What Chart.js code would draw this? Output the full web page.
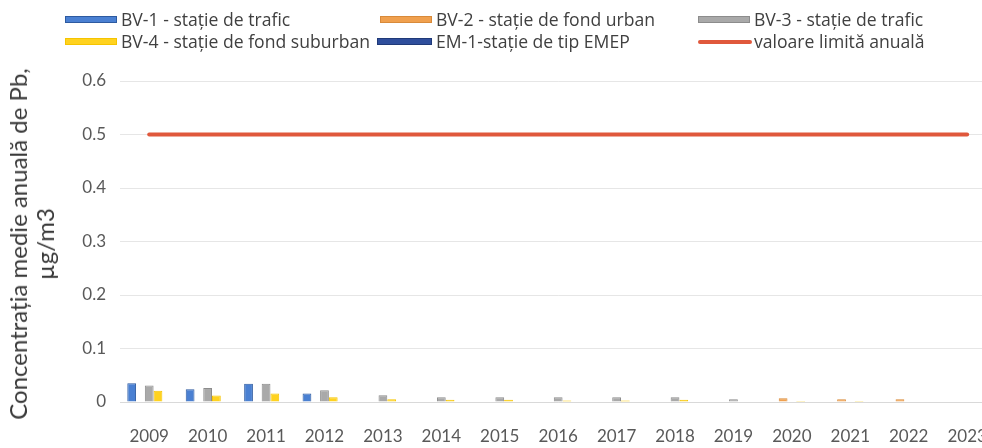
<!DOCTYPE html>
<html>
<head>
<meta charset="utf-8">
<script src="https://cdn.jsdelivr.net/npm/chart.js@4.4.1/dist/chart.umd.min.js"></script>
<style>
  html, body { margin: 0; padding: 0; background: #fff; }
  #wrap { position: relative; width: 982px; height: 448px; overflow: hidden; font-family: "Open Sans", Lato, sans-serif; }
  #box { position: absolute; left: 0; top: 0; width: 1011px; height: 448px; }
  .lg { position: absolute; font-size: 17.6px; color: #404040; white-space: nowrap; line-height: 20px; }
  .sw { position: absolute; }
  #ytitle { position: absolute; left: 31px; top: 244px; width: 0; height: 0; }
  #ytitleText { position: absolute; left: 0; top: 0; transform: translate(-50%, -50%) rotate(-90deg);
                font-family: Lato, sans-serif; font-size: 24px; line-height: 27px; color: #3a3a3a;
                text-align: center; white-space: nowrap; }
</style>
</head>
<body>
<div id="wrap">
  <div id="box"><canvas id="chart" width="1011" height="448"></canvas></div>
  <div id="legend"></div>
  <div id="ytitle"><div id="ytitleText"></div></div>
</div>
<script>
const years = ["2009", "2010", "2011", "2012", "2013", "2014", "2015", "2016", "2017", "2018", "2019", "2020", "2021", "2022", "2023"];

const seriesNames = [
    "BV-1 - stație de trafic",
    "BV-2 - stație de fond urban",
    "BV-3 - stație de trafic",
    "BV-4 - stație de fond suburban",
    "EM-1-stație de tip EMEP",
    "valoare limită anuală"
];

const yTitleLines = ["Concentrația medie anuală de Pb,", "µg/m3"];

// values (µg/m3), null = no bar drawn
const bv1 = [0.035, 0.024, 0.034, 0.016, null, null, null, null, null, null, null, null, null, null, null];
const bv2 = [null, null, null, null, null, null, null, null, null, null, null, 0.007, 0.005, 0.005, null];
const bv3 = [0.031, 0.026, 0.034, 0.022, 0.0125, 0.009, 0.009, 0.009, 0.009, 0.009, 0.005, null, null, null, null];
const bv4 = [0.021, 0.012, 0.016, 0.009, 0.005, 0.004, 0.004, 0.003, 0.003, 0.004, null, 0.002, 0.002, null, null];
const em1 = [null, null, null, null, null, null, null, null, null, null, null, null, null, null, null];
const limit = [0.5, 0.5, 0.5, 0.5, 0.5, 0.5, 0.5, 0.5, 0.5, 0.5, 0.5, 0.5, 0.5, 0.5, 0.5];

const fills = ["#4a80d2", "#f0a04e", "#a9a9a9", "#ffd21f", "#2f4e9c", "#e0583c"];
const borders = ["#2d5aa0", "#d88a3a", "#8c8c8c", "#f5c400", "#203a78", "#e0583c"];

const tickColor = "#595959";

const barSets = [bv1, bv2, bv3, bv4, em1].map((vals, i) => ({
    type: "bar",
    label: seriesNames[i],
    data: vals,
    backgroundColor: fills[i],
    borderColor: borders[i],
    borderWidth: 1,
    categoryPercentage: 0.75,
    barPercentage: 1,
    order: 2
}));

const lineSet = {
    type: "line",
    label: seriesNames[5],
    data: limit,
    borderColor: fills[5],
    borderWidth: 4,
    borderCapStyle: "round",
    pointRadius: 0,
    tension: 0,
    order: 1
};

new Chart(document.getElementById("chart"), {
    data: { labels: years, datasets: [...barSets, lineSet] },
    options: {
        responsive: false,
        animation: false,
        devicePixelRatio: 1,
        layout: { padding: { top: 81, right: 4, left: 0, bottom: 0 } },
        plugins: { legend: { display: false }, tooltip: { enabled: false } },
        scales: {
            x: {
                grid: { display: false, drawTicks: false },
                border: { display: true, color: "#d9d9d9", width: 1 },
                ticks: { color: tickColor, font: { family: "Lato", size: 17 }, padding: 24, maxRotation: 0, autoSkip: false },
                afterFit: s => { s.height = 46; }
            },
            y: {
                min: 0,
                max: 0.6,
                ticks: { stepSize: 0.1, color: tickColor, font: { family: "Lato", size: 17 }, padding: 14 },
                grid: { color: "#e6e6e6", drawTicks: false },
                border: { display: false },
                afterFit: s => { s.width = 120; }
            }
        }
    }
});

// rotated axis title, two lines
const yt = document.getElementById("ytitleText");
yTitleLines.forEach(t => {
    const line = document.createElement("div");
    line.textContent = t;
    yt.appendChild(line);
});

// legend: three columns, filled row by row like the original
const legendCols = [65, 380, 698];
const legendRows = [20, 42];
const legend = document.getElementById("legend");
seriesNames.forEach((name, i) => {
    const col = legendCols[i % 3];
    const row = legendRows[Math.floor(i / 3)];
    const sw = document.createElement("div");
    sw.className = "sw";
    if (i === 5) {
        sw.style.cssText = `left:${col}px;top:${row - 2}px;width:54px;height:4px;border-radius:2px;background:${fills[i]}`;
    } else {
        sw.style.cssText = `left:${col + (i === 4 ? -3 : 0)}px;top:${row - 4}px;width:${i === 4 ? 55 : 52}px;height:7px;background:${fills[i]};box-sizing:border-box;border:1px solid ${borders[i]}`;
    }
    legend.appendChild(sw);
    const tx = document.createElement("div");
    tx.className = "lg";
    tx.textContent = name;
    tx.style.left = (col + 56) + "px";
    tx.style.top = (row - 11) + "px";
    legend.appendChild(tx);
});
</script>
</body>
</html>
